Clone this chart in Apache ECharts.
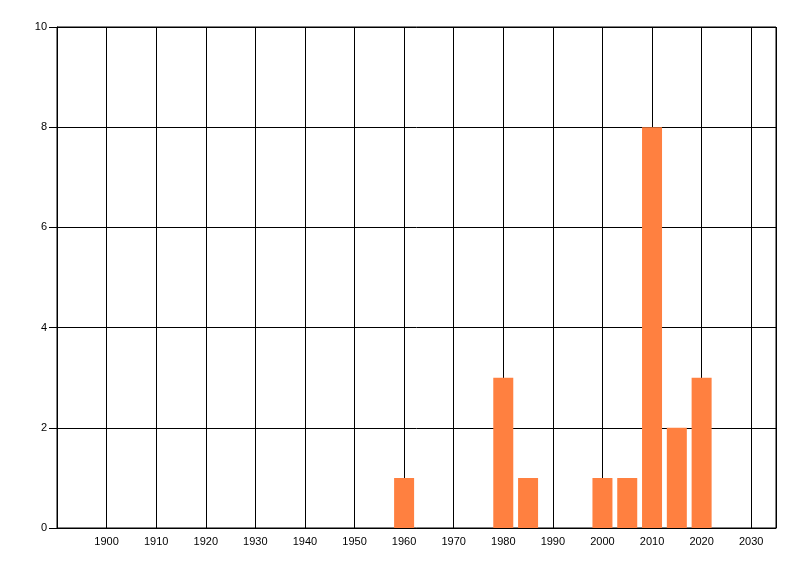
<!DOCTYPE html>
<html>
<head>
<meta charset="utf-8">
<script src="https://cdn.jsdelivr.net/npm/echarts@6/dist/echarts.min.js"></script>
<style>html,body{margin:0;padding:0;background:#fff;}#c{width:800px;height:576px;}</style>
</head>
<body>
<div id="c"></div>
<script>
const years = [1960, 1980, 1985, 2000, 2005, 2010, 2015, 2020];
const counts = [1, 3, 1, 1, 1, 8, 2, 3];
const xMin = 1890, xMax = 2035, xStep = 10;
const yMin = 0, yMax = 10, yStep = 2;

const chart = echarts.init(document.getElementById('c'), null, {renderer: 'canvas'});
const font = {fontFamily: 'Liberation Sans', fontSize: 11, color: '#000'};
chart.setOption({
  animation: false,
  backgroundColor: '#fff',
  grid: {left: 57, top: 27, right: 24, bottom: 48, show: true, borderColor: '#000', borderWidth: 1},
  xAxis: {
    type: 'value', min: xMin, max: xMax, interval: xStep,
    axisLine: {show: true, lineStyle: {color: '#000', width: 1}},
    axisTick: {show: false},
    splitLine: {show: true, lineStyle: {color: '#000', width: 1}},
    axisLabel: Object.assign({showMinLabel: false, showMaxLabel: false, margin: 8,
      formatter: v => String(v)}, font)
  },
  yAxis: {
    type: 'value', min: yMin, max: yMax, interval: yStep,
    axisLine: {show: true, lineStyle: {color: '#000', width: 1}},
    axisTick: {show: true, length: 8, lineStyle: {color: '#000'}},
    splitLine: {show: true, lineStyle: {color: '#000', width: 1}},
    axisLabel: Object.assign({margin: 10, formatter: v => String(v)}, font)
  },
  series: [{
    type: 'bar',
    barWidth: 20,
    itemStyle: {color: '#FF8040'},
    data: years.map((y, i) => [y, counts[i]])
  }]
});
</script>
</body>
</html>
